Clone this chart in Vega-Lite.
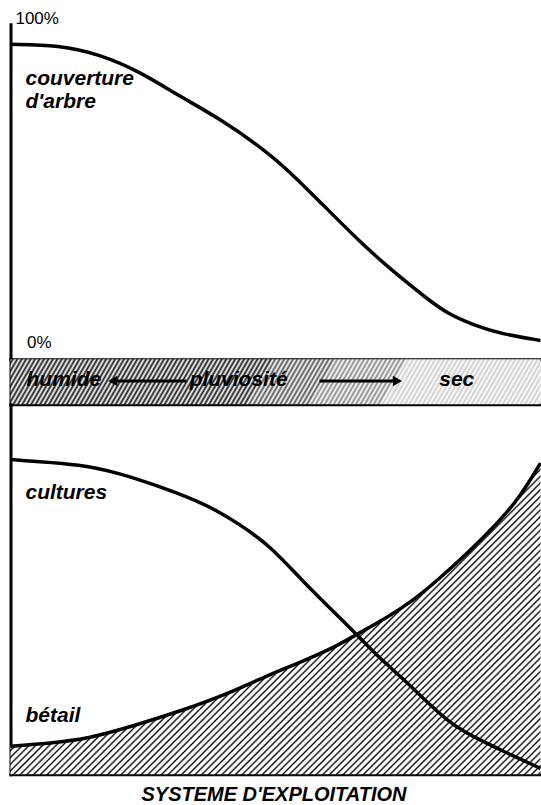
{
"$schema": "https://vega.github.io/schema/vega-lite/v6.json",
"background": "white",
"padding": {"left": 3.5, "top": 9.3, "right": 0, "bottom": 0},
"spacing": 0,
"bounds": "flush",
"config": {
  "view": {"stroke": null},
  "axis": {"domainColor": "#000", "domainWidth": 3, "domainCap": "square", "ticks": false, "labels": false, "grid": false},
  "text": {"font": "Liberation Sans", "fontSize": 21, "fontWeight": "bold", "fontStyle": "italic", "align": "left", "baseline": "alphabetic", "color": "#000"}
},
"datasets": {
  "tree": [{"x":0,"y":100},{"x":9.2,"y":99.7},{"x":16.8,"y":96.6},{"x":24.3,"y":90.9},{"x":31.9,"y":82.5},{"x":39.4,"y":75.1},{"x":48.3,"y":64.0},{"x":53.2,"y":56.2},{"x":59.6,"y":44.8},{"x":65.8,"y":33.7},{"x":72.1,"y":23.6},{"x":78.5,"y":14.5},{"x":82.3,"y":9.4},{"x":87.9,"y":5.1},{"x":92.8,"y":2.4},{"x":100,"y":0.3}],
  "cult": [{"x":0,"y":85.1},{"x":4.2,"y":84.6},{"x":13.0,"y":83.8},{"x":20.6,"y":81.4},{"x":28.1,"y":77.8},{"x":37.0,"y":73.0},{"x":43.2,"y":67.6},{"x":48.9,"y":61.9},{"x":55.1,"y":52.2},{"x":61.5,"y":43.2},{"x":65.3,"y":37.8},{"x":69.6,"y":31.4},{"x":75.3,"y":24.3},{"x":82.8,"y":13.5},{"x":89.1,"y":8.9},{"x":94.2,"y":5.4},{"x":100,"y":1.6}],
  "betail": [{"x":0,"y":7.6},{"x":7.4,"y":8.4},{"x":14.9,"y":9.7},{"x":23.0,"y":13.0},{"x":31.9,"y":17.0},{"x":40.8,"y":21.6},{"x":48.9,"y":27.0},{"x":55.1,"y":30.5},{"x":61.5,"y":34.6},{"x":65.3,"y":37.8},{"x":70.9,"y":42.2},{"x":75.8,"y":46.8},{"x":80.4,"y":52.2},{"x":86.6,"y":60.3},{"x":91.7,"y":67.6},{"x":96.0,"y":74.6},{"x":100,"y":84.1}],
  "toplabels": [{"label":"couverture","x":2.83,"y":86.4},{"label":"d'arbre","x":2.83,"y":78.5}],
  "pct": [{"label":"100%","x":0.94,"y":106.8},{"label":"0%","x":3.13,"y":-2.19}],
  "bandtext": [{"label":"humide","x":3.02,"y":0.4},{"label":"pluviosité","x":33.8,"y":0.4},{"label":"sec","x":80.9,"y":0.4}],
  "arrows": [{"dir":"left","x":33.2,"x2":19.3,"y":0.52},{"dir":"right","x":58.3,"x2":73.0,"y":0.52}],
  "bottomlabels": [{"label":"cultures","x":2.83,"y":74.3},{"label":"bétail","x":2.83,"y":14.1}]
},
"vconcat": [
{
  "width": 530, "height": 335,
  "layer": [
    {"data": {"name": "tree"},
     "mark": {"type": "line", "interpolate": "basis", "stroke": "#000", "strokeWidth": 3.5},
     "encoding": {
       "x": {"field": "x", "type": "quantitative", "scale": {"domain": [0, 100], "nice": false, "zero": false}, "title": null},
       "y": {"field": "y", "type": "quantitative", "scale": {"domain": [-6.06, 106.73], "nice": false, "zero": false}, "title": null}}},
    {"data": {"name": "toplabels"},
     "mark": {"type": "text"},
     "encoding": {
       "x": {"field": "x", "type": "quantitative", "scale": {"domain": [0, 100], "nice": false, "zero": false}, "title": null},
       "y": {"field": "y", "type": "quantitative", "scale": {"domain": [-6.06, 106.73], "nice": false, "zero": false}, "title": null},
       "text": {"field": "label"}}},
    {"data": {"name": "pct"},
     "mark": {"type": "text", "fontSize": 17, "fontWeight": "normal", "fontStyle": "normal"},
     "encoding": {
       "x": {"field": "x", "type": "quantitative", "scale": {"domain": [0, 100], "nice": false, "zero": false}, "title": null},
       "y": {"field": "y", "type": "quantitative", "scale": {"domain": [-6.06, 106.73], "nice": false, "zero": false}, "title": null},
       "text": {"field": "label"}}}
  ]
},
{
  "width": 530, "height": 45,
  "layer": [
    {"data": {"values": [{}]},
     "mark": {"type": "rect", "stroke": null, "fill": {"gradient": "linear", "x1": 0, "y1": 0, "x2": 1.0466, "y2": 0.0513, "stops": [
{"offset":0,"color":"#fff"},{"offset":0.004,"color":"#1a1a1a"},{"offset":0.008,"color":"#fff"},{"offset":0.012,"color":"#1a1a1a"},{"offset":0.016,"color":"#fff"},{"offset":0.02,"color":"#1a1a1a"},{"offset":0.024,"color":"#fff"},{"offset":0.028,"color":"#1a1a1a"},{"offset":0.032,"color":"#fff"},{"offset":0.036,"color":"#1a1a1a"},{"offset":0.04,"color":"#fff"},{"offset":0.044,"color":"#1a1a1a"},{"offset":0.048,"color":"#fff"},{"offset":0.052,"color":"#1a1a1a"},{"offset":0.056,"color":"#fff"},{"offset":0.06,"color":"#1a1a1a"},{"offset":0.064,"color":"#fff"},{"offset":0.068,"color":"#1a1a1a"},{"offset":0.072,"color":"#fff"},{"offset":0.076,"color":"#1a1a1a"},{"offset":0.08,"color":"#fff"},{"offset":0.084,"color":"#1a1a1a"},{"offset":0.088,"color":"#fff"},{"offset":0.092,"color":"#1a1a1a"},{"offset":0.096,"color":"#fff"},{"offset":0.1,"color":"#1a1a1a"},{"offset":0.104,"color":"#fff"},{"offset":0.108,"color":"#1a1a1a"},{"offset":0.112,"color":"#fff"},{"offset":0.116,"color":"#1a1a1a"},{"offset":0.12,"color":"#fff"},{"offset":0.124,"color":"#1a1a1a"},{"offset":0.128,"color":"#fff"},{"offset":0.132,"color":"#1a1a1a"},{"offset":0.136,"color":"#fff"},{"offset":0.14,"color":"#1a1a1a"},{"offset":0.144,"color":"#fff"},{"offset":0.148,"color":"#1a1a1a"},{"offset":0.152,"color":"#fff"},{"offset":0.156,"color":"#1a1a1a"},{"offset":0.16,"color":"#fff"},{"offset":0.164,"color":"#1a1a1a"},{"offset":0.168,"color":"#fff"},{"offset":0.172,"color":"#1a1a1a"},{"offset":0.176,"color":"#fff"},{"offset":0.18,"color":"#1a1a1a"},{"offset":0.184,"color":"#fff"},{"offset":0.188,"color":"#1a1a1a"},{"offset":0.192,"color":"#fff"},{"offset":0.196,"color":"#1a1a1a"},{"offset":0.2,"color":"#fff"},{"offset":0.204,"color":"#1a1a1a"},{"offset":0.208,"color":"#fff"},{"offset":0.212,"color":"#1a1a1a"},{"offset":0.216,"color":"#fff"},{"offset":0.22,"color":"#1a1a1a"},{"offset":0.224,"color":"#fff"},{"offset":0.228,"color":"#1a1a1a"},{"offset":0.232,"color":"#fff"},{"offset":0.236,"color":"#1a1a1a"},{"offset":0.24,"color":"#fff"},{"offset":0.244,"color":"#1a1a1a"},{"offset":0.248,"color":"#fff"},{"offset":0.252,"color":"#1a1a1a"},{"offset":0.256,"color":"#fff"},{"offset":0.26,"color":"#1a1a1a"},{"offset":0.264,"color":"#fff"},{"offset":0.268,"color":"#1a1a1a"},{"offset":0.272,"color":"#fff"},{"offset":0.276,"color":"#1a1a1a"},{"offset":0.28,"color":"#fff"},{"offset":0.284,"color":"#1a1a1a"},{"offset":0.288,"color":"#fff"},{"offset":0.292,"color":"#1a1a1a"},{"offset":0.296,"color":"#fff"},{"offset":0.3,"color":"#1a1a1a"},{"offset":0.304,"color":"#fff"},{"offset":0.308,"color":"#1a1a1a"},{"offset":0.312,"color":"#fff"},{"offset":0.316,"color":"#1a1a1a"},{"offset":0.32,"color":"#fff"},{"offset":0.324,"color":"#1a1a1a"},{"offset":0.328,"color":"#fff"},{"offset":0.332,"color":"#1a1a1a"},{"offset":0.336,"color":"#fff"},{"offset":0.34,"color":"#1a1a1a"},{"offset":0.344,"color":"#fff"},{"offset":0.348,"color":"#1a1a1a"},{"offset":0.352,"color":"#fff"},{"offset":0.356,"color":"#1a1a1a"},{"offset":0.36,"color":"#fff"},{"offset":0.364,"color":"#1a1a1a"},{"offset":0.368,"color":"#fff"},{"offset":0.372,"color":"#1a1a1a"},{"offset":0.376,"color":"#fff"},{"offset":0.38,"color":"#1a1a1a"},{"offset":0.384,"color":"#fff"},{"offset":0.388,"color":"#1a1a1a"},{"offset":0.392,"color":"#fff"},{"offset":0.396,"color":"#1a1a1a"},{"offset":0.4,"color":"#fff"},{"offset":0.404,"color":"#1a1a1a"},{"offset":0.408,"color":"#fff"},{"offset":0.412,"color":"#1a1a1a"},{"offset":0.416,"color":"#fff"},{"offset":0.42,"color":"#1a1a1a"},{"offset":0.424,"color":"#fff"},{"offset":0.428,"color":"#1a1a1a"},{"offset":0.432,"color":"#fff"},{"offset":0.436,"color":"#1a1a1a"},{"offset":0.44,"color":"#fff"},{"offset":0.444,"color":"#1a1a1a"},{"offset":0.448,"color":"#fff"},{"offset":0.452,"color":"#1a1a1a"},{"offset":0.456,"color":"#fff"},{"offset":0.46,"color":"#1a1a1a"},{"offset":0.464,"color":"#fff"},{"offset":0.468,"color":"#1a1a1a"},{"offset":0.472,"color":"#fff"},{"offset":0.476,"color":"#555"},{"offset":0.48,"color":"#fff"},{"offset":0.484,"color":"#555"},{"offset":0.488,"color":"#fff"},{"offset":0.492,"color":"#555"},{"offset":0.496,"color":"#fff"},{"offset":0.5,"color":"#555"},{"offset":0.504,"color":"#fff"},{"offset":0.508,"color":"#555"},{"offset":0.512,"color":"#fff"},{"offset":0.516,"color":"#555"},{"offset":0.52,"color":"#fff"},{"offset":0.524,"color":"#555"},{"offset":0.528,"color":"#fff"},{"offset":0.532,"color":"#555"},{"offset":0.536,"color":"#fff"},{"offset":0.54,"color":"#555"},{"offset":0.544,"color":"#fff"},{"offset":0.548,"color":"#555"},{"offset":0.552,"color":"#fff"},{"offset":0.556,"color":"#555"},{"offset":0.56,"color":"#fff"},{"offset":0.564,"color":"#555"},{"offset":0.568,"color":"#fff"},{"offset":0.572,"color":"#555"},{"offset":0.576,"color":"#fff"},{"offset":0.58,"color":"#555"},{"offset":0.584,"color":"#fff"},{"offset":0.588,"color":"#888"},{"offset":0.592,"color":"#fff"},{"offset":0.596,"color":"#888"},{"offset":0.6,"color":"#fff"},{"offset":0.604,"color":"#888"},{"offset":0.608,"color":"#fff"},{"offset":0.612,"color":"#888"},{"offset":0.616,"color":"#fff"},{"offset":0.62,"color":"#888"},{"offset":0.624,"color":"#fff"},{"offset":0.628,"color":"#888"},{"offset":0.632,"color":"#fff"},{"offset":0.636,"color":"#888"},{"offset":0.64,"color":"#fff"},{"offset":0.644,"color":"#888"},{"offset":0.648,"color":"#fff"},{"offset":0.652,"color":"#888"},{"offset":0.656,"color":"#fff"},{"offset":0.66,"color":"#888"},{"offset":0.664,"color":"#fff"},{"offset":0.668,"color":"#888"},{"offset":0.672,"color":"#fff"},{"offset":0.676,"color":"#888"},{"offset":0.68,"color":"#fff"},{"offset":0.684,"color":"#888"},{"offset":0.688,"color":"#fff"},{"offset":0.692,"color":"#888"},{"offset":0.696,"color":"#fff"},{"offset":0.7,"color":"#888"},{"offset":0.704,"color":"#fff"},{"offset":0.708,"color":"#888"},{"offset":0.712,"color":"#fff"},{"offset":0.716,"color":"#ccc"},{"offset":0.72,"color":"#fff"},{"offset":0.724,"color":"#ccc"},{"offset":0.728,"color":"#fff"},{"offset":0.732,"color":"#ccc"},{"offset":0.736,"color":"#fff"},{"offset":0.74,"color":"#ccc"},{"offset":0.744,"color":"#fff"},{"offset":0.748,"color":"#ccc"},{"offset":0.752,"color":"#fff"},{"offset":0.756,"color":"#ccc"},{"offset":0.76,"color":"#fff"},{"offset":0.764,"color":"#ccc"},{"offset":0.768,"color":"#fff"},{"offset":0.772,"color":"#ccc"},{"offset":0.776,"color":"#fff"},{"offset":0.78,"color":"#ccc"},{"offset":0.784,"color":"#fff"},{"offset":0.788,"color":"#ccc"},{"offset":0.792,"color":"#fff"},{"offset":0.796,"color":"#ccc"},{"offset":0.8,"color":"#fff"},{"offset":0.804,"color":"#ccc"},{"offset":0.808,"color":"#fff"},{"offset":0.812,"color":"#ccc"},{"offset":0.816,"color":"#fff"},{"offset":0.82,"color":"#ccc"},{"offset":0.824,"color":"#fff"},{"offset":0.828,"color":"#ccc"},{"offset":0.832,"color":"#fff"},{"offset":0.836,"color":"#ccc"},{"offset":0.84,"color":"#fff"},{"offset":0.844,"color":"#ccc"},{"offset":0.848,"color":"#fff"},{"offset":0.852,"color":"#ccc"},{"offset":0.856,"color":"#fff"},{"offset":0.86,"color":"#ccc"},{"offset":0.864,"color":"#fff"},{"offset":0.868,"color":"#ccc"},{"offset":0.872,"color":"#fff"},{"offset":0.876,"color":"#ccc"},{"offset":0.88,"color":"#fff"},{"offset":0.884,"color":"#ccc"},{"offset":0.888,"color":"#fff"},{"offset":0.892,"color":"#ccc"},{"offset":0.896,"color":"#fff"},{"offset":0.9,"color":"#ccc"},{"offset":0.904,"color":"#fff"},{"offset":0.908,"color":"#ccc"},{"offset":0.912,"color":"#fff"},{"offset":0.916,"color":"#ccc"},{"offset":0.92,"color":"#fff"},{"offset":0.924,"color":"#ccc"},{"offset":0.928,"color":"#fff"},{"offset":0.932,"color":"#ccc"},{"offset":0.936,"color":"#fff"},{"offset":0.94,"color":"#ccc"},{"offset":0.944,"color":"#fff"},{"offset":0.948,"color":"#ccc"},{"offset":0.952,"color":"#fff"},{"offset":0.956,"color":"#ccc"},{"offset":0.96,"color":"#fff"},{"offset":0.964,"color":"#ccc"},{"offset":0.968,"color":"#fff"},{"offset":0.972,"color":"#ccc"},{"offset":0.976,"color":"#fff"},{"offset":0.98,"color":"#ccc"},{"offset":0.984,"color":"#fff"},{"offset":0.988,"color":"#ccc"},{"offset":0.992,"color":"#fff"},{"offset":0.996,"color":"#ccc"},{"offset":1,"color":"#fff"}
     ]}},
     "encoding": {
       "x": {"datum": 0, "type": "quantitative", "scale": {"domain": [0, 100], "nice": false, "zero": false}, "title": null},
       "x2": {"datum": 100},
       "y": {"datum": 0, "type": "quantitative", "scale": {"domain": [0, 1], "nice": false, "zero": false}, "title": null},
       "y2": {"datum": 1}}},
    {"data": {"name": "arrows"},
     "mark": {"type": "rule", "stroke": "#000", "strokeWidth": 3},
     "encoding": {
       "x": {"field": "x", "type": "quantitative", "scale": {"domain": [0, 100], "nice": false, "zero": false}, "title": null},
       "x2": {"field": "x2"},
       "y": {"field": "y", "type": "quantitative", "scale": {"domain": [0, 1], "nice": false, "zero": false}, "title": null}}},
    {"data": {"name": "arrows"},
     "mark": {"type": "point", "filled": true, "color": "#000", "opacity": 1, "size": 110},
     "encoding": {
       "x": {"field": "x2", "type": "quantitative", "scale": {"domain": [0, 100], "nice": false, "zero": false}, "title": null},
       "y": {"field": "y", "type": "quantitative", "scale": {"domain": [0, 1], "nice": false, "zero": false}, "title": null},
       "shape": {"field": "dir", "type": "nominal", "scale": {"domain": ["left", "right"], "range": ["triangle-left", "triangle-right"]}, "legend": null}}},
    {"data": {"name": "bandtext"},
     "mark": {"type": "text"},
     "encoding": {
       "x": {"field": "x", "type": "quantitative", "scale": {"domain": [0, 100], "nice": false, "zero": false}, "title": null},
       "y": {"field": "y", "type": "quantitative", "scale": {"domain": [0, 1], "nice": false, "zero": false}, "title": null},
       "text": {"field": "label"}}}
  ]
},
{
  "width": 530, "height": 370,
  "layer": [
    {"data": {"name": "betail"},
     "mark": {"type": "area", "interpolate": "basis", "stroke": null, "fill": {"gradient": "linear", "x1": 0, "y1": 0, "x2": 1.18, "y2": 0.6926, "stops": [
{"offset":0,"color":"#fff"},{"offset":0.0036,"color":"#fff"},{"offset":0.00576,"color":"#000"},
{"offset":0.008,"color":"#fff"},{"offset":0.0116,"color":"#fff"},{"offset":0.01376,"color":"#000"},
{"offset":0.016,"color":"#fff"},{"offset":0.0196,"color":"#fff"},{"offset":0.02176,"color":"#000"},
{"offset":0.024,"color":"#fff"},{"offset":0.0276,"color":"#fff"},{"offset":0.02976,"color":"#000"},
{"offset":0.032,"color":"#fff"},{"offset":0.0356,"color":"#fff"},{"offset":0.03776,"color":"#000"},
{"offset":0.04,"color":"#fff"},{"offset":0.0436,"color":"#fff"},{"offset":0.04576,"color":"#000"},
{"offset":0.048,"color":"#fff"},{"offset":0.0516,"color":"#fff"},{"offset":0.05376,"color":"#000"},
{"offset":0.056,"color":"#fff"},{"offset":0.0596,"color":"#fff"},{"offset":0.06176,"color":"#000"},
{"offset":0.064,"color":"#fff"},{"offset":0.0676,"color":"#fff"},{"offset":0.06976,"color":"#000"},
{"offset":0.072,"color":"#fff"},{"offset":0.0756,"color":"#fff"},{"offset":0.07776,"color":"#000"},
{"offset":0.08,"color":"#fff"},{"offset":0.0836,"color":"#fff"},{"offset":0.08576,"color":"#000"},
{"offset":0.088,"color":"#fff"},{"offset":0.0916,"color":"#fff"},{"offset":0.09376,"color":"#000"},
{"offset":0.096,"color":"#fff"},{"offset":0.0996,"color":"#fff"},{"offset":0.10176,"color":"#000"},
{"offset":0.104,"color":"#fff"},{"offset":0.1076,"color":"#fff"},{"offset":0.10976,"color":"#000"},
{"offset":0.112,"color":"#fff"},{"offset":0.1156,"color":"#fff"},{"offset":0.11776,"color":"#000"},
{"offset":0.12,"color":"#fff"},{"offset":0.1236,"color":"#fff"},{"offset":0.12576,"color":"#000"},
{"offset":0.128,"color":"#fff"},{"offset":0.1316,"color":"#fff"},{"offset":0.13376,"color":"#000"},
{"offset":0.136,"color":"#fff"},{"offset":0.1396,"color":"#fff"},{"offset":0.14176,"color":"#000"},
{"offset":0.144,"color":"#fff"},{"offset":0.1476,"color":"#fff"},{"offset":0.14976,"color":"#000"},
{"offset":0.152,"color":"#fff"},{"offset":0.1556,"color":"#fff"},{"offset":0.15776,"color":"#000"},
{"offset":0.16,"color":"#fff"},{"offset":0.1636,"color":"#fff"},{"offset":0.16576,"color":"#000"},
{"offset":0.168,"color":"#fff"},{"offset":0.1716,"color":"#fff"},{"offset":0.17376,"color":"#000"},
{"offset":0.176,"color":"#fff"},{"offset":0.1796,"color":"#fff"},{"offset":0.18176,"color":"#000"},
{"offset":0.184,"color":"#fff"},{"offset":0.1876,"color":"#fff"},{"offset":0.18976,"color":"#000"},
{"offset":0.192,"color":"#fff"},{"offset":0.1956,"color":"#fff"},{"offset":0.19776,"color":"#000"},
{"offset":0.2,"color":"#fff"},{"offset":0.2036,"color":"#fff"},{"offset":0.20576,"color":"#000"},
{"offset":0.208,"color":"#fff"},{"offset":0.2116,"color":"#fff"},{"offset":0.21376,"color":"#000"},
{"offset":0.216,"color":"#fff"},{"offset":0.2196,"color":"#fff"},{"offset":0.22176,"color":"#000"},
{"offset":0.224,"color":"#fff"},{"offset":0.2276,"color":"#fff"},{"offset":0.22976,"color":"#000"},
{"offset":0.232,"color":"#fff"},{"offset":0.2356,"color":"#fff"},{"offset":0.23776,"color":"#000"},
{"offset":0.24,"color":"#fff"},{"offset":0.2436,"color":"#fff"},{"offset":0.24576,"color":"#000"},
{"offset":0.248,"color":"#fff"},{"offset":0.2516,"color":"#fff"},{"offset":0.25376,"color":"#000"},
{"offset":0.256,"color":"#fff"},{"offset":0.2596,"color":"#fff"},{"offset":0.26176,"color":"#000"},
{"offset":0.264,"color":"#fff"},{"offset":0.2676,"color":"#fff"},{"offset":0.26976,"color":"#000"},
{"offset":0.272,"color":"#fff"},{"offset":0.2756,"color":"#fff"},{"offset":0.27776,"color":"#000"},
{"offset":0.28,"color":"#fff"},{"offset":0.2836,"color":"#fff"},{"offset":0.28576,"color":"#000"},
{"offset":0.288,"color":"#fff"},{"offset":0.2916,"color":"#fff"},{"offset":0.29376,"color":"#000"},
{"offset":0.296,"color":"#fff"},{"offset":0.2996,"color":"#fff"},{"offset":0.30176,"color":"#000"},
{"offset":0.304,"color":"#fff"},{"offset":0.3076,"color":"#fff"},{"offset":0.30976,"color":"#000"},
{"offset":0.312,"color":"#fff"},{"offset":0.3156,"color":"#fff"},{"offset":0.31776,"color":"#000"},
{"offset":0.32,"color":"#fff"},{"offset":0.3236,"color":"#fff"},{"offset":0.32576,"color":"#000"},
{"offset":0.328,"color":"#fff"},{"offset":0.3316,"color":"#fff"},{"offset":0.33376,"color":"#000"},
{"offset":0.336,"color":"#fff"},{"offset":0.3396,"color":"#fff"},{"offset":0.34176,"color":"#000"},
{"offset":0.344,"color":"#fff"},{"offset":0.3476,"color":"#fff"},{"offset":0.34976,"color":"#000"},
{"offset":0.352,"color":"#fff"},{"offset":0.3556,"color":"#fff"},{"offset":0.35776,"color":"#000"},
{"offset":0.36,"color":"#fff"},{"offset":0.3636,"color":"#fff"},{"offset":0.36576,"color":"#000"},
{"offset":0.368,"color":"#fff"},{"offset":0.3716,"color":"#fff"},{"offset":0.37376,"color":"#000"},
{"offset":0.376,"color":"#fff"},{"offset":0.3796,"color":"#fff"},{"offset":0.38176,"color":"#000"},
{"offset":0.384,"color":"#fff"},{"offset":0.3876,"color":"#fff"},{"offset":0.38976,"color":"#000"},
{"offset":0.392,"color":"#fff"},{"offset":0.3956,"color":"#fff"},{"offset":0.39776,"color":"#000"},
{"offset":0.4,"color":"#fff"},{"offset":0.4036,"color":"#fff"},{"offset":0.40576,"color":"#000"},
{"offset":0.408,"color":"#fff"},{"offset":0.4116,"color":"#fff"},{"offset":0.41376,"color":"#000"},
{"offset":0.416,"color":"#fff"},{"offset":0.4196,"color":"#fff"},{"offset":0.42176,"color":"#000"},
{"offset":0.424,"color":"#fff"},{"offset":0.4276,"color":"#fff"},{"offset":0.42976,"color":"#000"},
{"offset":0.432,"color":"#fff"},{"offset":0.4356,"color":"#fff"},{"offset":0.43776,"color":"#000"},
{"offset":0.44,"color":"#fff"},{"offset":0.4436,"color":"#fff"},{"offset":0.44576,"color":"#000"},
{"offset":0.448,"color":"#fff"},{"offset":0.4516,"color":"#fff"},{"offset":0.45376,"color":"#000"},
{"offset":0.456,"color":"#fff"},{"offset":0.4596,"color":"#fff"},{"offset":0.46176,"color":"#000"},
{"offset":0.464,"color":"#fff"},{"offset":0.4676,"color":"#fff"},{"offset":0.46976,"color":"#000"},
{"offset":0.472,"color":"#fff"},{"offset":0.4756,"color":"#fff"},{"offset":0.47776,"color":"#000"},
{"offset":0.48,"color":"#fff"},{"offset":0.4836,"color":"#fff"},{"offset":0.48576,"color":"#000"},
{"offset":0.488,"color":"#fff"},{"offset":0.4916,"color":"#fff"},{"offset":0.49376,"color":"#000"},
{"offset":0.496,"color":"#fff"},{"offset":0.4996,"color":"#fff"},{"offset":0.50176,"color":"#000"},
{"offset":0.504,"color":"#fff"},{"offset":0.5076,"color":"#fff"},{"offset":0.50976,"color":"#000"},
{"offset":0.512,"color":"#fff"},{"offset":0.5156,"color":"#fff"},{"offset":0.51776,"color":"#000"},
{"offset":0.52,"color":"#fff"},{"offset":0.5236,"color":"#fff"},{"offset":0.52576,"color":"#000"},
{"offset":0.528,"color":"#fff"},{"offset":0.5316,"color":"#fff"},{"offset":0.53376,"color":"#000"},
{"offset":0.536,"color":"#fff"},{"offset":0.5396,"color":"#fff"},{"offset":0.54176,"color":"#000"},
{"offset":0.544,"color":"#fff"},{"offset":0.5476,"color":"#fff"},{"offset":0.54976,"color":"#000"},
{"offset":0.552,"color":"#fff"},{"offset":0.5556,"color":"#fff"},{"offset":0.55776,"color":"#000"},
{"offset":0.56,"color":"#fff"},{"offset":0.5636,"color":"#fff"},{"offset":0.56576,"color":"#000"},
{"offset":0.568,"color":"#fff"},{"offset":0.5716,"color":"#fff"},{"offset":0.57376,"color":"#000"},
{"offset":0.576,"color":"#fff"},{"offset":0.5796,"color":"#fff"},{"offset":0.58176,"color":"#000"},
{"offset":0.584,"color":"#fff"},{"offset":0.5876,"color":"#fff"},{"offset":0.58976,"color":"#000"},
{"offset":0.592,"color":"#fff"},{"offset":0.5956,"color":"#fff"},{"offset":0.59776,"color":"#000"},
{"offset":0.6,"color":"#fff"},{"offset":0.6036,"color":"#fff"},{"offset":0.60576,"color":"#000"},
{"offset":0.608,"color":"#fff"},{"offset":0.6116,"color":"#fff"},{"offset":0.61376,"color":"#000"},
{"offset":0.616,"color":"#fff"},{"offset":0.6196,"color":"#fff"},{"offset":0.62176,"color":"#000"},
{"offset":0.624,"color":"#fff"},{"offset":0.6276,"color":"#fff"},{"offset":0.62976,"color":"#000"},
{"offset":0.632,"color":"#fff"},{"offset":0.6356,"color":"#fff"},{"offset":0.63776,"color":"#000"},
{"offset":0.64,"color":"#fff"},{"offset":0.6436,"color":"#fff"},{"offset":0.64576,"color":"#000"},
{"offset":0.648,"color":"#fff"},{"offset":0.6516,"color":"#fff"},{"offset":0.65376,"color":"#000"},
{"offset":0.656,"color":"#fff"},{"offset":0.6596,"color":"#fff"},{"offset":0.66176,"color":"#000"},
{"offset":0.664,"color":"#fff"},{"offset":0.6676,"color":"#fff"},{"offset":0.66976,"color":"#000"},
{"offset":0.672,"color":"#fff"},{"offset":0.6756,"color":"#fff"},{"offset":0.67776,"color":"#000"},
{"offset":0.68,"color":"#fff"},{"offset":0.6836,"color":"#fff"},{"offset":0.68576,"color":"#000"},
{"offset":0.688,"color":"#fff"},{"offset":0.6916,"color":"#fff"},{"offset":0.69376,"color":"#000"},
{"offset":0.696,"color":"#fff"},{"offset":0.6996,"color":"#fff"},{"offset":0.70176,"color":"#000"},
{"offset":0.704,"color":"#fff"},{"offset":0.7076,"color":"#fff"},{"offset":0.70976,"color":"#000"},
{"offset":0.712,"color":"#fff"},{"offset":0.7156,"color":"#fff"},{"offset":0.71776,"color":"#000"},
{"offset":0.72,"color":"#fff"},{"offset":0.7236,"color":"#fff"},{"offset":0.72576,"color":"#000"},
{"offset":0.728,"color":"#fff"},{"offset":0.7316,"color":"#fff"},{"offset":0.73376,"color":"#000"},
{"offset":0.736,"color":"#fff"},{"offset":0.7396,"color":"#fff"},{"offset":0.74176,"color":"#000"},
{"offset":0.744,"color":"#fff"},{"offset":0.7476,"color":"#fff"},{"offset":0.74976,"color":"#000"},
{"offset":0.752,"color":"#fff"},{"offset":0.7556,"color":"#fff"},{"offset":0.75776,"color":"#000"},
{"offset":0.76,"color":"#fff"},{"offset":0.7636,"color":"#fff"},{"offset":0.76576,"color":"#000"},
{"offset":0.768,"color":"#fff"},{"offset":0.7716,"color":"#fff"},{"offset":0.77376,"color":"#000"},
{"offset":0.776,"color":"#fff"},{"offset":0.7796,"color":"#fff"},{"offset":0.78176,"color":"#000"},
{"offset":0.784,"color":"#fff"},{"offset":0.7876,"color":"#fff"},{"offset":0.78976,"color":"#000"},
{"offset":0.792,"color":"#fff"},{"offset":0.7956,"color":"#fff"},{"offset":0.79776,"color":"#000"},
{"offset":0.8,"color":"#fff"},{"offset":0.8036,"color":"#fff"},{"offset":0.80576,"color":"#000"},
{"offset":0.808,"color":"#fff"},{"offset":0.8116,"color":"#fff"},{"offset":0.81376,"color":"#000"},
{"offset":0.816,"color":"#fff"},{"offset":0.8196,"color":"#fff"},{"offset":0.82176,"color":"#000"},
{"offset":0.824,"color":"#fff"},{"offset":0.8276,"color":"#fff"},{"offset":0.82976,"color":"#000"},
{"offset":0.832,"color":"#fff"},{"offset":0.8356,"color":"#fff"},{"offset":0.83776,"color":"#000"},
{"offset":0.84,"color":"#fff"},{"offset":0.8436,"color":"#fff"},{"offset":0.84576,"color":"#000"},
{"offset":0.848,"color":"#fff"},{"offset":0.8516,"color":"#fff"},{"offset":0.85376,"color":"#000"},
{"offset":0.856,"color":"#fff"},{"offset":0.8596,"color":"#fff"},{"offset":0.86176,"color":"#000"},
{"offset":0.864,"color":"#fff"},{"offset":0.8676,"color":"#fff"},{"offset":0.86976,"color":"#000"},
{"offset":0.872,"color":"#fff"},{"offset":0.8756,"color":"#fff"},{"offset":0.87776,"color":"#000"},
{"offset":0.88,"color":"#fff"},{"offset":0.8836,"color":"#fff"},{"offset":0.88576,"color":"#000"},
{"offset":0.888,"color":"#fff"},{"offset":0.8916,"color":"#fff"},{"offset":0.89376,"color":"#000"},
{"offset":0.896,"color":"#fff"},{"offset":0.8996,"color":"#fff"},{"offset":0.90176,"color":"#000"},
{"offset":0.904,"color":"#fff"},{"offset":0.9076,"color":"#fff"},{"offset":0.90976,"color":"#000"},
{"offset":0.912,"color":"#fff"},{"offset":0.9156,"color":"#fff"},{"offset":0.91776,"color":"#000"},
{"offset":0.92,"color":"#fff"},{"offset":0.9236,"color":"#fff"},{"offset":0.92576,"color":"#000"},
{"offset":0.928,"color":"#fff"},{"offset":0.9316,"color":"#fff"},{"offset":0.93376,"color":"#000"},
{"offset":0.936,"color":"#fff"},{"offset":0.9396,"color":"#fff"},{"offset":0.94176,"color":"#000"},
{"offset":0.944,"color":"#fff"},{"offset":0.9476,"color":"#fff"},{"offset":0.94976,"color":"#000"},
{"offset":0.952,"color":"#fff"},{"offset":0.9556,"color":"#fff"},{"offset":0.95776,"color":"#000"},
{"offset":0.96,"color":"#fff"},{"offset":0.9636,"color":"#fff"},{"offset":0.96576,"color":"#000"},
{"offset":0.968,"color":"#fff"},{"offset":0.9716,"color":"#fff"},{"offset":0.97376,"color":"#000"},
{"offset":0.976,"color":"#fff"},{"offset":0.9796,"color":"#fff"},{"offset":0.98176,"color":"#000"},
{"offset":0.984,"color":"#fff"},{"offset":0.9876,"color":"#fff"},{"offset":0.98976,"color":"#000"},
{"offset":0.992,"color":"#fff"},{"offset":0.9956,"color":"#fff"},{"offset":0.99776,"color":"#000"},
{"offset":1,"color":"#fff"}
     ]}},
     "encoding": {
       "x": {"field": "x", "type": "quantitative", "scale": {"domain": [0, 100], "nice": false, "zero": false}, "title": "SYSTEME D'EXPLOITATION",
             "axis": {"titleFont": "Liberation Sans", "titleFontSize": 20, "titleFontWeight": "bold", "titleFontStyle": "italic", "titleColor": "#000", "titlePadding": 10, "titleX": 263}},
       "y": {"field": "y", "type": "quantitative", "scale": {"domain": [0, 100], "nice": false, "zero": false}, "title": null}}},
    {"data": {"name": "betail"},
     "mark": {"type": "line", "interpolate": "basis", "stroke": "#000", "strokeWidth": 3.5},
     "encoding": {
       "x": {"field": "x", "type": "quantitative", "scale": {"domain": [0, 100], "nice": false, "zero": false}},
       "y": {"field": "y", "type": "quantitative", "scale": {"domain": [0, 100], "nice": false, "zero": false}}}},
    {"data": {"name": "cult"},
     "mark": {"type": "line", "interpolate": "basis", "stroke": "#000", "strokeWidth": 3.5},
     "encoding": {
       "x": {"field": "x", "type": "quantitative", "scale": {"domain": [0, 100], "nice": false, "zero": false}},
       "y": {"field": "y", "type": "quantitative", "scale": {"domain": [0, 100], "nice": false, "zero": false}}}},
    {"data": {"name": "bottomlabels"},
     "mark": {"type": "text"},
     "encoding": {
       "x": {"field": "x", "type": "quantitative", "scale": {"domain": [0, 100], "nice": false, "zero": false}},
       "y": {"field": "y", "type": "quantitative", "scale": {"domain": [0, 100], "nice": false, "zero": false}},
       "text": {"field": "label"}}}
  ]
}
]
}
